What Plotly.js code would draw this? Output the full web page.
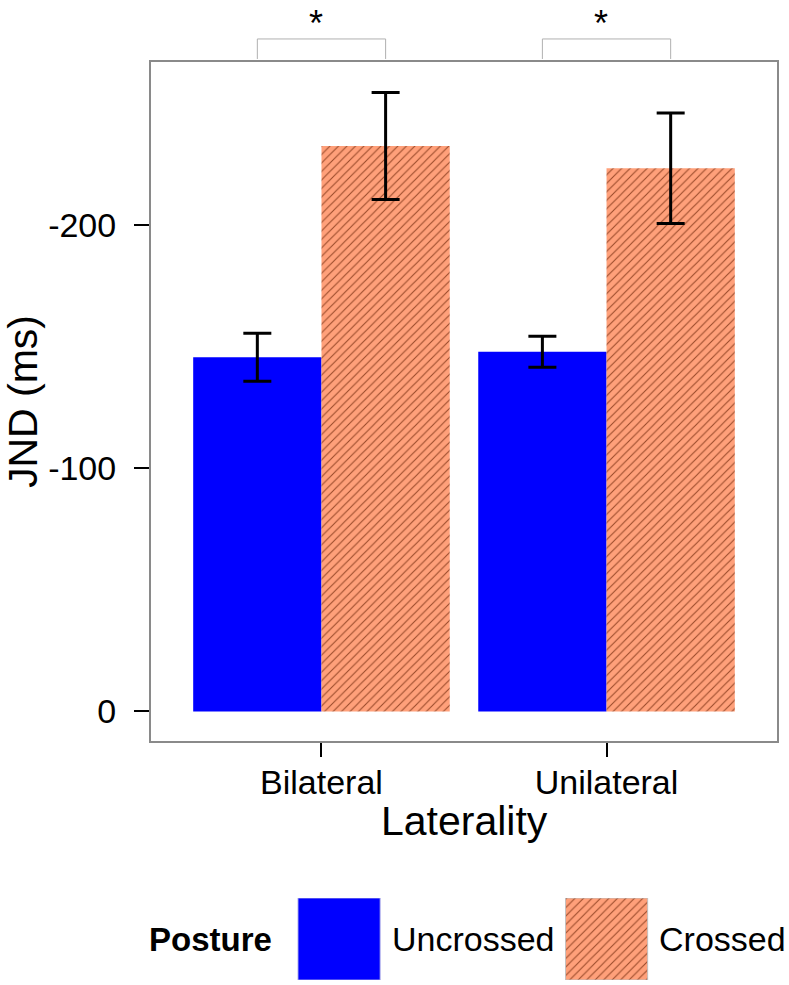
<!DOCTYPE html>
<html>
<head>
<meta charset="utf-8">
<script src="https://cdn.plot.ly/plotly-3.0.1.min.js"></script>
<style>html,body{margin:0;padding:0;background:#fff;}#chart{width:789px;height:985px;}</style>
</head>
<body>
<div id="chart"></div>
<script>
// ---- data ----
const laterality = ['Bilateral', 'Unilateral'];
const postures = ['Uncrossed', 'Crossed'];
const uncrossedJND = [-145.7, -148.0];
const crossedJND = [-232.6, -223.5];
const uncrossedSE = [9.9, 6.4];
const crossedSE = [22.0, 22.7];
const yTickVals = [0, -100, -200];
const yTickText = ['0', '-100', '-200'];
const sigMarks = ['*', '*'];
const legendTitle = 'Posture';
const xTitle = 'Laterality';
const yTitle = 'JND (ms)';

// ---- styles ----
const FONT = 'Liberation Sans, Arial, Helvetica, sans-serif';
const BLUE = '#0000FF';
const SALMON = '#FFA07A';
const HATCH = '#9a4a2a';
const BARGAP = 0.1;
const hatch = {shape: '/', size: 6, solidity: 0.18, fgcolor: HATCH, bgcolor: SALMON, fillmode: 'replace'};

const traces = [
  {
    type: 'bar', name: postures[0], x: laterality, y: uncrossedJND,
    marker: {color: BLUE, line: {width: 0}},
    error_y: {type: 'data', array: uncrossedSE, visible: true, color: '#000', thickness: 3, width: 14},
    showlegend: false, xaxis: 'x', yaxis: 'y'
  },
  {
    type: 'bar', name: postures[1], x: laterality, y: crossedJND,
    marker: {color: SALMON, line: {width: 0}, pattern: hatch},
    error_y: {type: 'data', array: crossedSE, visible: true, color: '#000', thickness: 3, width: 14},
    showlegend: false, xaxis: 'x', yaxis: 'y'
  },
  // legend swatches drawn as bars on a small helper subplot
  {
    type: 'bar', x: [postures[0]], y: [1], width: 0.307, offsetgroup: 'leg',
    marker: {color: BLUE, line: {width: 1, color: 'rgba(170,170,230,0.9)'}},
    hoverinfo: 'skip', showlegend: false, xaxis: 'x2', yaxis: 'y2'
  },
  {
    type: 'bar', x: [postures[1]], y: [1], width: 0.307, offsetgroup: 'leg',
    marker: {color: SALMON, line: {width: 1, color: 'rgba(190,190,190,0.9)'}, pattern: hatch},
    hoverinfo: 'skip', showlegend: false, xaxis: 'x2', yaxis: 'y2'
  }
];

const half = (1 - BARGAP) / 4;
const shapes = [];
const annotations = [];
laterality.forEach((c, i) => {
  const a = i - half, b = i + half;
  const yTop = 1.0251, yBot = 1.0033;
  const line = {color: '#b0b0b0', width: 1};
  shapes.push({type: 'line', xref: 'x', yref: 'paper', x0: a, x1: b, y0: yTop, y1: yTop, line});
  shapes.push({type: 'line', xref: 'x', yref: 'paper', x0: a, x1: a, y0: yTop, y1: yBot, line});
  shapes.push({type: 'line', xref: 'x', yref: 'paper', x0: b, x1: b, y0: yTop, y1: yBot, line});
  annotations.push({text: sigMarks[i], xref: 'x', yref: 'paper', x: i - 0.02, y: 1.066,
    showarrow: false, xanchor: 'center', yanchor: 'top', font: {family: FONT, size: 36, color: '#000'}});
});
// x axis title
annotations.push({text: xTitle, xref: 'x', yref: 'paper', x: 0.5, y: 0.173,
  xanchor: 'center', yanchor: 'middle', showarrow: false, font: {family: FONT, size: 41, color: '#000'}});
// legend text
annotations.push({text: '<b>' + legendTitle + '</b>', xref: 'x2', yref: 'y2', x: -0.245, y: 0.5,
  xanchor: 'right', yanchor: 'middle', showarrow: false, font: {family: FONT, size: 33, color: '#000'}});
postures.forEach((p, i) => {
  annotations.push({text: p, xref: 'x2', yref: 'y2', x: i + 0.19, y: 0.5,
    xanchor: 'left', yanchor: 'middle', showarrow: false, font: {family: FONT, size: 34, color: '#000'}});
});

const layout = {
  width: 789, height: 985,
  margin: {l: 151, r: 12, t: 62, b: 5, pad: 0},
  paper_bgcolor: '#fff', plot_bgcolor: '#fff',
  font: {family: FONT, color: '#000'},
  barmode: 'group', bargap: BARGAP, bargroupgap: 0,
  showlegend: false,
  xaxis: {
    domain: [0, 1], anchor: 'y', type: 'category', range: [-0.598, 1.598],
    showgrid: false, zeroline: false,
    showline: true, linecolor: '#8a8a8a', linewidth: 2, mirror: true,
    ticks: 'outside', ticklen: 14, tickwidth: 2, tickcolor: '#000',
    tickfont: {family: FONT, size: 34, color: '#000'}, ticklabelstandoff: -4,
    automargin: false, fixedrange: true
  },
  yaxis: {
    domain: [0.2603, 1], anchor: 'x', range: [12.2, -267.2],
    showgrid: false, zeroline: false,
    showline: true, linecolor: '#8a8a8a', linewidth: 2, mirror: true,
    ticks: 'outside', ticklen: 15, tickwidth: 2, tickcolor: '#000',
    tickmode: 'array', tickvals: yTickVals, ticktext: yTickText,
    tickfont: {family: FONT, size: 34, color: '#000'}, ticklabelstandoff: 11,
    title: {text: yTitle, font: {family: FONT, size: 41, color: '#000'}, standoff: 26},
    automargin: false, fixedrange: true
  },
  xaxis2: {
    domain: [0, 1], anchor: 'y2', type: 'category', range: [-0.703, 1.637],
    visible: false, fixedrange: true
  },
  yaxis2: {
    domain: [0, 0.0893], anchor: 'x2', range: [0, 1],
    visible: false, fixedrange: true
  },
  shapes: shapes,
  annotations: annotations
};

Plotly.newPlot('chart', traces, layout, {displayModeBar: false, staticPlot: true});
</script>
</body>
</html>
